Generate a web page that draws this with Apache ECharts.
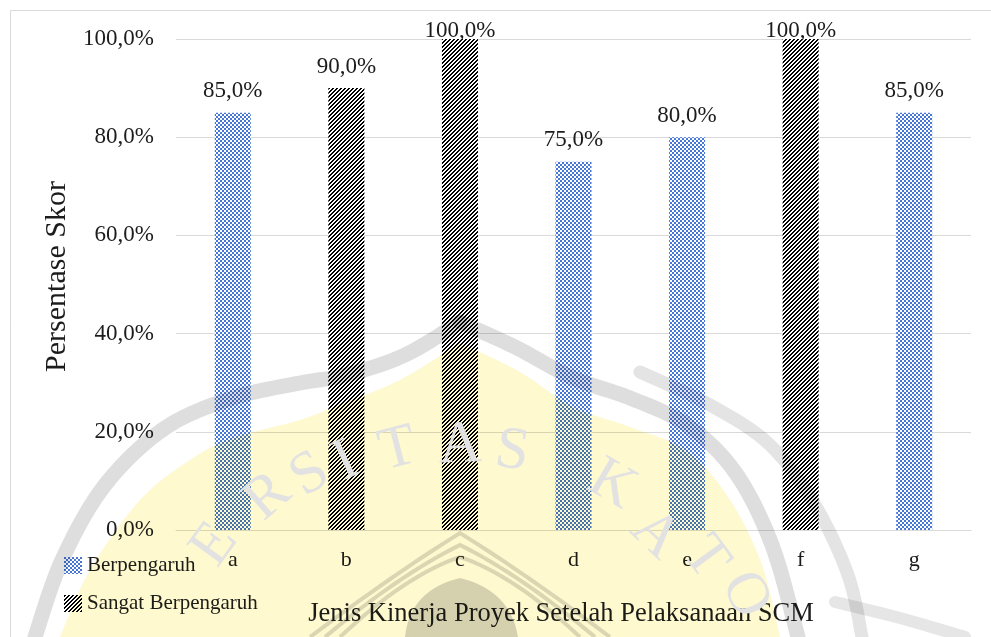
<!DOCTYPE html>
<html>
<head>
<meta charset="utf-8">
<script src="https://cdn.jsdelivr.net/npm/echarts@6/dist/echarts.min.js"></script>
<style>
  html, body { margin: 0; padding: 0; background: #ffffff; }
  #chart { width: 991px; height: 637px; }
</style>
</head>
<body>
<div id="chart"></div>
<script>
// ---- data ----
const categories = ['a', 'b', 'c', 'd', 'e', 'f', 'g'];
const berpengaruh = [85, null, null, 75, 80, null, 85];
const sangatBerpengaruh = [null, 90, 100, null, null, 100, null];
const seriesNames = ['Berpengaruh', 'Sangat Berpengaruh'];
const yAxisTitle = 'Persentase Skor';
const xAxisTitle = 'Jenis Kinerja Proyek Setelah Pelaksanaan SCM';
const yMin = 0, yMax = 100, yStep = 20;
const emblemText = ['E', 'R', 'S', 'I', 'T', 'A', 'S', 'K', 'A', 'T', 'O'];

const FONT = '"Liberation Serif", "Times New Roman", serif';
const TEXT = '#1c1c1c';
const pct = v => Number(v).toFixed(1).replace('.', ',') + '%';

// ---- fill patterns ----
function checkerPattern() {
  const c = document.createElement('canvas');
  c.width = 4; c.height = 4;
  const g = c.getContext('2d');
  g.fillStyle = '#ffffff'; g.fillRect(0, 0, 4, 4);
  g.fillStyle = '#4676d6';
  g.fillRect(0, 0, 2, 2); g.fillRect(2, 2, 2, 2);
  return c;
}
function stripePattern() {
  const c = document.createElement('canvas');
  c.width = 8; c.height = 8;
  const g = c.getContext('2d');
  for (let y = 0; y < 8; y++) {
    for (let x = 0; x < 8; x++) {
      g.fillStyle = ((x + y) % 4) < 2 ? '#000000' : '#ffffff';
      g.fillRect(x, y, 1, 1);
    }
  }
  return c;
}
const blueFill = { image: checkerPattern(), repeat: 'repeat' };
const blackFill = { image: stripePattern(), repeat: 'repeat' };

// ---- background emblem (faint university seal) ----
// smooth curve through the given points, returned as a dense point list
function smooth(pts) {
  const out = [pts[0]];
  for (let i = 0; i < pts.length - 1; i++) {
    const p0 = pts[i - 1] || pts[i], p1 = pts[i], p2 = pts[i + 1], p3 = pts[i + 2] || p2;
    const c1 = [p1[0] + (p2[0] - p0[0]) / 6, p1[1] + (p2[1] - p0[1]) / 6];
    const c2 = [p2[0] - (p3[0] - p1[0]) / 6, p2[1] - (p3[1] - p1[1]) / 6];
    for (let k = 1; k <= 12; k++) {
      const t = k / 12, u = 1 - t;
      out.push([
        u * u * u * p1[0] + 3 * u * u * t * c1[0] + 3 * u * t * t * c2[0] + t * t * t * p2[0],
        u * u * u * p1[1] + 3 * u * u * t * c1[1] + 3 * u * t * t * c2[1] + t * t * t * p2[1]
      ]);
    }
  }
  return out;
}
function quad(a, c, b) {
  const out = [];
  for (let k = 0; k <= 16; k++) {
    const t = k / 16, u = 1 - t;
    out.push([u * u * a[0] + 2 * u * t * c[0] + t * t * b[0], u * u * a[1] + 2 * u * t * c[1] + t * t * b[1]]);
  }
  return out;
}
// yellow field
const fieldL = [[60,637],[90,570],[140,500],[190,460],[233,438],[300,420],[346,402],[400,380],[460,343]];
const fieldR = [[460,343],[520,372],[573,407],[630,427],[687,451],[730,500],[762,565],[780,637]];
// grey rim above the field
const rimL = [[35,637],[62,560],[105,485],[165,428],[233,398],[300,383],[346,375],[405,355],[460,322]];
const rimR = [[460,322],[515,347],[573,378],[630,398],[687,425],[735,472],[772,545],[798,637]];
const outerRight = [[640,372],[710,405],[770,445],[815,505],[848,575],[862,637]];
const lowerRight = [[835,602],[900,618],[965,637]];

const multiply = 'multiply';
const emblem = [];
emblem.push({
  type: 'polygon', z: 100, silent: true,
  shape: { points: smooth(fieldL).concat(smooth(fieldR).slice(1)) },
  style: { fill: '#fef9cf', blend: multiply }
});
[[rimL, 15, '#dedede'], [rimR, 15, '#dedede'], [outerRight, 13, '#e4e4e4'], [lowerRight, 12, '#e6e6e6']]
  .forEach(([pts, w, col]) => {
    emblem.push({
      type: 'polyline', z: 100, silent: true,
      shape: { points: smooth(pts) },
      style: { fill: null, stroke: col, lineWidth: w, lineCap: 'round', lineJoin: 'round', blend: multiply }
    });
  });
// pointed arch near the bottom centre
[[533, 150], [545, 135], [557, 120]].forEach(([top, half]) => {
  const left = quad([460 - half, 637], [460 - half * 0.45, 575], [460, top]);
  const right = quad([460, top], [460 + half * 0.45, 575], [460 + half, 637]);
  emblem.push({
    type: 'polyline', z: 100, silent: true,
    shape: { points: left.concat(right.slice(1)) },
    style: { fill: null, stroke: '#dcdcdc', lineWidth: 4, blend: multiply }
  });
});
emblem.push({
  type: 'polygon', z: 100, silent: true,
  shape: { points: quad([405, 637], [410, 590], [460, 578]).concat(quad([460, 578], [510, 590], [518, 637]).slice(1)) },
  style: { fill: '#d6d6d6', blend: multiply }
});
// lettering around the seal
const letterSpots = [[215,545],[268,497],[310,475],[346,462],[398,450],[460,446],[512,452],[612,485],[655,535],[705,558],[745,595]];
const sealCx = 470, sealCy = 730;
emblemText.forEach((ch, i) => {
  const [x, y] = letterSpots[i];
  emblem.push({
    type: 'text', z: 100, silent: true,
    x, y, rotation: Math.atan2(sealCx - x, sealCy - y),
    style: { text: ch, font: `60px ${FONT}`, fill: '#e2e2e2', align: 'center', verticalAlign: 'middle', blend: multiply }
  });
});

// ---- chart ----
const chart = echarts.init(document.getElementById('chart'), null, { renderer: 'canvas' });

function barData(arr) {
  return arr.map(v => (v == null ? '-' : {
    value: v,
    label: { distance: v >= yMax ? -3 : 10 }
  }));
}

const labelStyle = {
  show: true, position: 'top',
  fontFamily: FONT, fontSize: 23, color: TEXT,
  formatter: p => pct(p.value)
};

chart.setOption({
  animation: false,
  backgroundColor: '#ffffff',
  grid: { left: 176, right: 20, top: 39, bottom: 107, containLabel: false },
  legend: {
    orient: 'vertical', left: 64, top: 555, padding: 0,
    itemWidth: 18, itemHeight: 17, itemGap: 17,
    icon: 'rect',
    textStyle: { fontFamily: FONT, fontSize: 21, color: TEXT },
    data: seriesNames
  },
  xAxis: {
    type: 'category', data: categories,
    axisLine: { show: true, lineStyle: { color: '#d9d9d9', width: 1 } },
    axisTick: { show: false },
    axisLabel: { margin: 19, fontFamily: FONT, fontSize: 22, color: TEXT },
    name: xAxisTitle, nameLocation: 'middle', nameGap: 71,
    nameTextStyle: { fontFamily: FONT, fontSize: 26.5, color: TEXT, padding: [0, 25, 0, 0] }
  },
  yAxis: {
    type: 'value', min: yMin, max: yMax, interval: yStep,
    axisLine: { show: false }, axisTick: { show: false },
    splitLine: { lineStyle: { color: '#d9d9d9', width: 1 } },
    axisLabel: { margin: 22, fontFamily: FONT, fontSize: 23, color: TEXT, formatter: v => pct(v) },
    name: yAxisTitle, nameLocation: 'middle', nameGap: 104,
    nameTextStyle: { fontFamily: FONT, fontSize: 30, color: TEXT, padding: [0, 0, 0, 16] }
  },
  series: [
    {
      name: seriesNames[0], type: 'bar', barWidth: 36, barGap: '-100%',
      itemStyle: { color: blueFill },
      label: labelStyle,
      data: barData(berpengaruh)
    },
    {
      name: seriesNames[1], type: 'bar', barWidth: 36, barGap: '-100%',
      itemStyle: { color: blackFill },
      label: labelStyle,
      data: barData(sangatBerpengaruh)
    }
  ],
  graphic: {
    elements: [
      {
        type: 'rect', z: 1, silent: true,
        shape: { x: 10.5, y: 10.5, width: 1000, height: 700 },
        style: { fill: 'none', stroke: '#d9d9d9', lineWidth: 1 }
      }
    ].concat(emblem)
  }
});
</script>
</body>
</html>
